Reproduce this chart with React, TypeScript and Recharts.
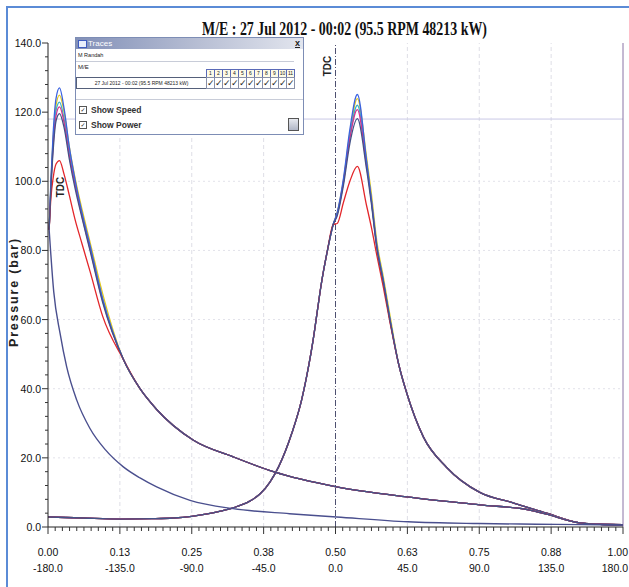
import React from "react";
import { LineChart, Line, XAxis, YAxis, ReferenceLine } from "recharts";

const title = "M/E : 27 Jul 2012 - 00:02 (95.5 RPM  48213 kW)";

// axis labels: volume fraction (top row) and crank angle (bottom row)
const volLabels = ["0.00", "0.13", "0.25", "0.38", "0.50", "0.63", "0.75", "0.88", "1.00"];
const angleLabels = ["-180.0", "-135.0", "-90.0", "-45.0", "0.0", "45.0", "90.0", "135.0", "180.0"];
const yLabelValues = [0, 20, 40, 60, 80, 100, 120, 140];
const gridY = [20, 40, 60, 80, 100];
const gridX = [0.125, 0.25, 0.375, 0.625, 0.75, 0.875];
const pmaxLine = 118;

// pressure vs crank angle, compression part (same for every cylinder)
const caCompX = [0, 0.06, 0.126, 0.18, 0.218, 0.25, 0.277, 0.3, 0.323, 0.35, 0.369, 0.386, 0.401, 0.424, 0.441, 0.453, 0.461, 0.468, 0.475, 0.486, 0.496];
const caCompP = [2.9, 2.6, 2.3, 2.4, 2.6, 3.1, 3.8, 4.6, 5.6, 7.4, 9.6, 13, 17.4, 27.1, 36.7, 46.3, 54, 62, 70, 80, 87.5];

// combustion part, per cylinder
const caPeakX = [0.503, 0.514, 0.525, 0.538, 0.554, 0.562, 0.572, 0.583, 0.595];
const caPeakBlue = [91, 101, 115, 125.1, 106, 95, 81, 71.4, 59.8];
const caPeakYellow = [91, 100.5, 114, 123.9, 107, 97, 82.5, 72.5, 61];
const caPeakCyan = [90.5, 100, 113, 122, 105.5, 95.5, 81.5, 71.5, 60];
const caPeakMagenta = [90.5, 100, 112.5, 120.7, 104.5, 95, 81, 71, 59.5];
const caPeakRed = [87.8, 94, 100, 104.3, 93, 87, 78.5, 69.5, 59];
const caPeakNavy = [90, 99, 111, 118.1, 103.5, 94, 80.5, 71, 59.5];

// expansion tail after combustion (same for every cylinder)
const caTailX = [0.61, 0.624, 0.653, 0.693, 0.751, 0.809, 0.867, 0.925, 0.96, 1.0];
const caTailP = [47, 38.7, 26, 17.3, 10, 7.0, 4, 1.2, 0.8, 0.7];

// pressure vs volume, compression branch
const pvCompX = [0.002, 0.01, 0.021, 0.0325, 0.05, 0.073, 0.1, 0.131, 0.16, 0.189, 0.247, 0.322, 0.42, 0.502, 0.626, 0.75, 0.85, 0.93, 1.0];
const pvCompP = [86, 68, 56, 46.3, 36.7, 28.5, 22.3, 17.4, 14.2, 11.6, 7.7, 5.3, 3.85, 2.9, 1.5, 1.0, 0.8, 0.7, 0.6];

// pressure vs volume, combustion around TDC, per cylinder
const pvPeakX = [0.002, 0.005, 0.009, 0.014, 0.02, 0.028, 0.037, 0.047, 0.059, 0.073, 0.095];
const pvPeakBlue = [86, 100, 114, 124, 127, 121, 110, 100.5, 91, 81.5, 66];
const pvPeakYellow = [86, 99, 112.5, 122, 124.9, 120, 110, 101, 92, 82.5, 67.5];
const pvPeakCyan = [86, 98.5, 111.5, 120.5, 122.9, 118, 108.5, 99.5, 90.5, 81, 66];
const pvPeakMagenta = [86, 98, 110.5, 119, 121.5, 117, 107.5, 99, 90, 80.5, 65.5];
const pvPeakRed = [86, 95, 101, 105, 106, 102, 96, 89, 82, 74, 61];
const pvPeakNavy = [86, 97.5, 109, 117.5, 119.6, 115.5, 106.5, 98, 89.5, 80, 65];

// pressure vs volume, expansion branch
const pvExpX = [0.131, 0.16, 0.189, 0.253, 0.322, 0.392, 0.502, 0.624, 0.751, 0.838, 0.867, 0.925, 0.96, 1.0];
const pvExpP = [48.5, 40, 34, 25.1, 20.3, 16, 11.6, 8.7, 6.4, 4.9, 3.7, 1.2, 0.8, 0.6];

const cylNums = ["1", "2", "3", "4", "5", "6", "7", "8", "9", "10", "11"];

type Pt = { x: number; p: number };
const zip = (xs: number[], ps: number[]): Pt[] => xs.map((x, i) => ({ x, p: ps[i] }));

const cylinders = [
  { id: "yellow", color: "#e2c81e", ca: caPeakYellow, pv: pvPeakYellow },
  { id: "cyan", color: "#36b2c8", ca: caPeakCyan, pv: pvPeakCyan },
  { id: "magenta", color: "#d6338e", ca: caPeakMagenta, pv: pvPeakMagenta },
  { id: "blue", color: "#3a62e0", ca: caPeakBlue, pv: pvPeakBlue },
  { id: "red", color: "#e3262a", ca: caPeakRed, pv: pvPeakRed },
  { id: "navy", color: "#435287", ca: caPeakNavy, pv: pvPeakNavy },
];

const xTicks = Array.from({ length: 81 }, (_, i) => i / 80);
const yTicks = Array.from({ length: 36 }, (_, i) => i * 4);

const tickFont = "'Liberation Sans', Arial, sans-serif";

function XTick(props: any) {
  const { x, y, payload } = props;
  const step = Math.round(payload.value * 80);
  const major = step % 10 === 0;
  const idx = step / 10;
  const last = idx === volLabels.length - 1;
  const tx = last ? 628 : x;
  const anchor = last ? "end" : "middle";
  return (
    <g>
      <line x1={x} x2={x} y1={y} y2={y + (major ? 7 : 4)} stroke="#333" strokeWidth={1} />
      {major && (
        <>
          <text x={tx} y={y + 29} textAnchor={anchor} fontSize={10.5} fill="#111" fontFamily={tickFont}>
            {volLabels[idx]}
          </text>
          <text x={tx} y={y + 45} textAnchor={anchor} fontSize={10.5} fill="#111" fontFamily={tickFont}>
            {angleLabels[idx]}
          </text>
        </>
      )}
    </g>
  );
}

function YTick(props: any) {
  const { x, y, payload } = props;
  const v = payload.value;
  const major = yLabelValues.includes(v);
  return (
    <g>
      <line x1={x} x2={x - (major ? 6 : 3)} y1={y} y2={y} stroke="#333" strokeWidth={1} />
      {major && (
        <text x={x - 7} y={y + 4} textAnchor="end" fontSize={10.5} fill="#111" fontFamily={tickFont}>
          {v.toFixed(1)}
        </text>
      )}
    </g>
  );
}

function TracesBox() {
  const cellW = 8;
  return (
    <div
      style={{
        position: "absolute",
        left: 75,
        top: 37,
        width: 227,
        height: 96,
        border: "1px solid #7d8db5",
        background: "#fff",
        fontFamily: "'Liberation Sans', Arial, sans-serif",
        color: "#222",
        overflow: "hidden",
      }}
    >
      <div style={{ position: "relative", height: 11, background: "linear-gradient(to right, #8290b8, #b8bfd4 55%, #e2e5ee)" }}>
        <div style={{ position: "absolute", left: 2, top: 2, width: 7, height: 6, background: "#e8eefc", border: "1px solid #3f5cc0" }} />
        <span style={{ position: "absolute", left: 12, top: 1, fontSize: 8, lineHeight: "9px", color: "#fff" }}>Traces</span>
        <span style={{ position: "absolute", right: 3, top: 0, fontSize: 9, lineHeight: "10px", fontWeight: 700, textDecoration: "underline" }}>x</span>
      </div>
      <div style={{ position: "absolute", left: 2, top: 14, fontSize: 5.5, lineHeight: "6px" }}>M Randah</div>
      <div style={{ position: "absolute", left: 0, top: 23, width: 218, borderTop: "1px solid #c8ccd8" }} />
      <div style={{ position: "absolute", left: 2, top: 26, fontSize: 6, lineHeight: "7px" }}>M/E</div>
      <div
        style={{
          position: "absolute",
          left: 0,
          top: 39,
          width: 129,
          height: 10,
          border: "1px solid #55607a",
          fontSize: 5,
          lineHeight: "10px",
          textAlign: "center",
        }}
      >
        27 Jul 2012 - 00:02 (95.5 RPM 48213 kW)
      </div>
      {cylNums.map((n, i) => (
        <React.Fragment key={n}>
          <div
            style={{
              position: "absolute",
              left: 130 + i * cellW,
              top: 31,
              width: cellW - 1,
              height: 7,
              border: "1px solid #5a6ab8",
              background: "#fdfbe6",
              fontSize: 5,
              lineHeight: "7px",
              textAlign: "center",
            }}
          >
            {n}
          </div>
          <div
            style={{
              position: "absolute",
              left: 130 + i * cellW,
              top: 39,
              width: cellW - 1,
              height: 10,
              border: "1px solid #8890a8",
              fontSize: 9,
              lineHeight: "10px",
              fontWeight: 700,
              textAlign: "center",
              fontFamily: "'DejaVu Sans', sans-serif",
            }}
          >
            ✓
          </div>
        </React.Fragment>
      ))}
      <div style={{ position: "absolute", left: 0, top: 61, width: 227, borderTop: "1px solid #c8ccd8" }} />
      {["Show Speed", "Show Power"].map((t, i) => (
        <div key={t} style={{ position: "absolute", left: 3, top: 67 + i * 15, display: "flex", alignItems: "center", gap: 4 }}>
          <div
            style={{
              width: 6,
              height: 6,
              border: "1px solid #555",
              fontSize: 6,
              lineHeight: "6px",
              textAlign: "center",
              fontFamily: "'DejaVu Sans', sans-serif",
            }}
          >
            ✓
          </div>
          <span style={{ fontSize: 8.5, lineHeight: "10px", fontWeight: 700, color: "#333" }}>{t}</span>
        </div>
      ))}
      <div
        style={{
          position: "absolute",
          left: 212,
          top: 80,
          width: 9,
          height: 11,
          border: "1px solid #555",
          background: "linear-gradient(#e6e8ee, #b0b6c6)",
        }}
      />
    </div>
  );
}

export default function App() {
  return (
    <div
      style={{
        position: "absolute",
        left: 0,
        top: 0,
        width: 629,
        height: 587,
        background: "#fff",
        overflow: "hidden",
      }}
    >
      <div
        style={{
          position: "absolute",
          left: 6,
          top: 6,
          width: 640,
          height: 600,
          borderLeft: "2px solid #5b8bd6",
          borderTop: "2px solid #5b8bd6",
        }}
      />
      <div style={{ position: "absolute", left: 0, top: 0 }}>
        <LineChart width={629} height={587} margin={{ top: 43, right: 6, bottom: 10, left: 8 }}>
          <XAxis
            type="number"
            dataKey="x"
            domain={[0, 1]}
            ticks={xTicks}
            interval={0}
            tick={(p: any) => <XTick {...p} />}
            tickLine={false}
            tickSize={0}
            tickMargin={0}
            height={50}
            axisLine={{ stroke: "#222" }}
            allowDataOverflow
          />
          <YAxis
            type="number"
            domain={[0, 140]}
            ticks={yTicks}
            interval={0}
            tick={(p: any) => <YTick {...p} />}
            tickLine={false}
            tickSize={0}
            tickMargin={0}
            width={40}
            axisLine={{ stroke: "#222" }}
            allowDataOverflow
          />
          {gridY.map((v) => (
            <ReferenceLine key={`gy${v}`} y={v} stroke="#e2e2ea" strokeDasharray="2 3" />
          ))}
          {gridX.map((v) => (
            <ReferenceLine key={`gx${v}`} x={v} stroke="#dedee6" strokeDasharray="4 3" />
          ))}
          <ReferenceLine y={pmaxLine} stroke="#c9c8e6" />
          <ReferenceLine x={0.5} stroke="#4e5070" strokeDasharray="6 2 1 2" />
          <ReferenceLine x={1} stroke="#8a72a6" />

          {cylinders.map((c) => (
            <Line
              key={`ca-${c.id}`}
              data={[...zip(caCompX, caCompP), ...zip(caPeakX, c.ca), ...zip(caTailX, caTailP)]}
              dataKey="p"
              type="monotone"
              stroke={c.color}
              strokeWidth={1.3}
              dot={false}
              isAnimationActive={false}
            />
          ))}
          {cylinders.map((c) => (
            <Line
              key={`pv-${c.id}`}
              data={[...zip(pvPeakX, c.pv), ...zip(pvExpX, pvExpP)]}
              dataKey="p"
              type="monotone"
              stroke={c.color}
              strokeWidth={1.3}
              dot={false}
              isAnimationActive={false}
            />
          ))}
          <Line
            data={zip(pvCompX, pvCompP)}
            dataKey="p"
            type="monotone"
            stroke="#4a4f8e"
            strokeWidth={1.4}
            dot={false}
            isAnimationActive={false}
          />
        </LineChart>
      </div>
      <svg width={629} height={587} style={{ position: "absolute", left: 0, top: 0, pointerEvents: "none" }}>
        <text
          x={202}
          y={35}
          fontSize={18}
          fontWeight={700}
          fontFamily="'Liberation Serif', 'Times New Roman', serif"
          fill="#111"
          textLength={285}
          lengthAdjust="spacingAndGlyphs"
        >
          {title}
        </text>
        <text
          transform="translate(18 292) rotate(-90)"
          textAnchor="middle"
          fontSize={12.5}
          fontWeight={700}
          letterSpacing={1.8}
          fontFamily={tickFont}
          fill="#222"
        >
          Pressure (bar)
        </text>
        <text transform="translate(331 66) rotate(-90)" textAnchor="middle" fontSize={10} fontWeight={700} fontFamily={tickFont} fill="#222">
          TDC
        </text>
        <text transform="translate(64 187) rotate(-90)" textAnchor="middle" fontSize={10} fontWeight={700} fontFamily={tickFont} fill="#222">
          TDC
        </text>
      </svg>
      <TracesBox />
    </div>
  );
}
